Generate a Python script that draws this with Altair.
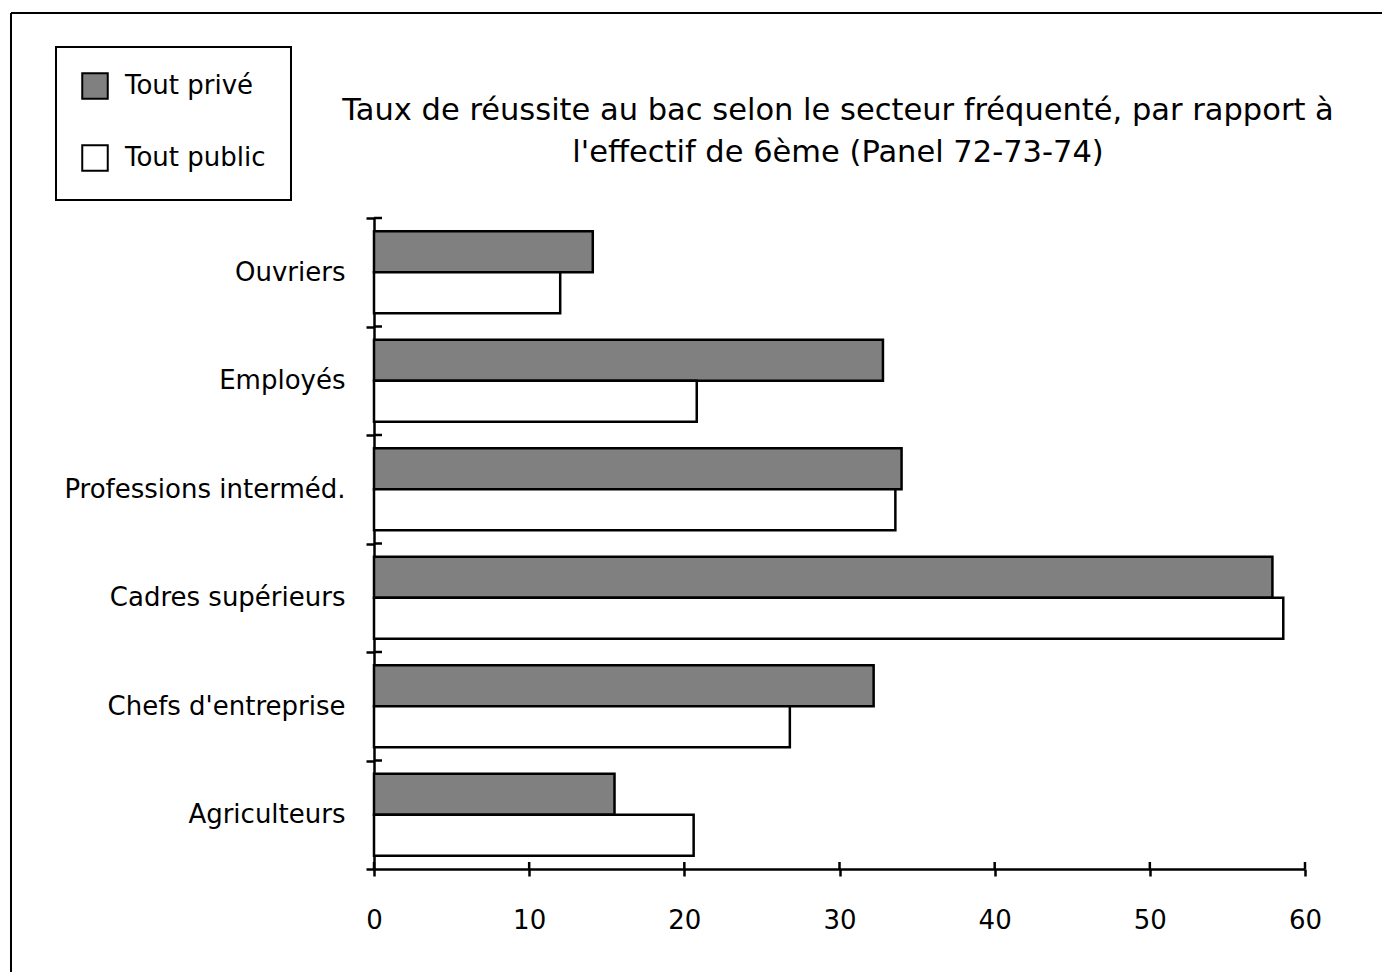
import altair as alt
import pandas as pd

categories = ["Ouvriers", "Employés", "Professions interméd.",
              "Cadres supérieurs", "Chefs d'entreprise", "Agriculteurs"]
series = ["Tout privé", "Tout public"]
prive = [14.1, 32.8, 34.0, 57.9, 32.2, 15.5]
public = [12.0, 20.8, 33.6, 58.6, 26.8, 20.6]
x_ticks = [0, 10, 20, 30, 40, 50, 60]
title_lines = ["Taux de réussite au bac selon le secteur fréquenté, par rapport à",
               "l'effectif de 6ème (Panel 72-73-74)"]

rows = []
for c, p, q in zip(categories, prive, public):
    rows.append({"cat": c, "serie": series[0], "val": p})
    rows.append({"cat": c, "serie": series[1], "val": q})
df = pd.DataFrame(rows)

W, H = 931, 651
FONT = "DejaVu Sans"
LBL = 26

x_scale = alt.Scale(domain=[0, 60], nice=False, zero=True)
y_scale = alt.Scale(paddingInner=0, paddingOuter=0)

x_axis = alt.Axis(values=x_ticks, title=None, grid=False,
                  domainColor="black", domainWidth=2.5,
                  tickColor="black", tickWidth=2.5, tickSize=7,
                  labelFontSize=LBL, labelFont=FONT, labelColor="black",
                  labelPadding=31, labelFlush=False, format="d")
y_axis = alt.Axis(title=None, tickBand="extent", tickSize=8, tickWidth=2.5, grid=False,
                  tickColor="black", domainColor="black", domainWidth=2.5,
                  labelFontSize=LBL, labelFont=FONT, labelColor="black",
                  labelPadding=21, labelLimit=400)

bars = alt.Chart(df).mark_bar(stroke="black", strokeWidth=2.5).encode(
    x=alt.X("val:Q", scale=x_scale, axis=x_axis),
    y=alt.Y("cat:N", sort=categories, scale=y_scale, axis=y_axis),
    yOffset=alt.YOffset("serie:N", sort=series,
                        scale=alt.Scale(paddingOuter=0.32, paddingInner=0)),
    fill=alt.Fill("serie:N", scale=alt.Scale(domain=series, range=["#808080", "#ffffff"]),
                  legend=alt.Legend(title=None, orient="none", legendX=-318, legendY=-171,
                                    symbolType="square", symbolSize=650,
                                    symbolStrokeColor="black", symbolStrokeWidth=2,
                                    symbolOpacity=1,
                                    labelFontSize=LBL, labelFont=FONT, labelColor="black",
                                    labelOffset=16, rowPadding=38, padding=25,
                                    strokeColor="black")),
)

xt = pd.DataFrame({"t": x_ticks})
x_in = alt.Chart(xt).mark_rule(color="black", strokeWidth=2.5).encode(
    x=alt.X("t:Q", scale=x_scale, axis=x_axis),
    y=alt.value(H - 7), y2=alt.value(H),
)

yt = pd.DataFrame({"cat": categories})
y_in = alt.Chart(yt).mark_rule(color="black", strokeWidth=2.5).encode(
    y=alt.Y("cat:N", sort=categories, bandPosition=0, scale=y_scale, axis=y_axis),
    x=alt.value(0), x2=alt.value(8),
)

dummy = pd.DataFrame({"a": [0]})
frame_top = alt.Chart(dummy).mark_rule(color="black", strokeWidth=2).encode(
    x=alt.value(-363), x2=alt.value(1008), y=alt.value(-205))
frame_left = alt.Chart(dummy).mark_rule(color="black", strokeWidth=2).encode(
    x=alt.value(-363), y=alt.value(-205), y2=alt.value(754))

t1 = alt.Chart(pd.DataFrame({"txt": [title_lines[0]]})).mark_text(
    font=FONT, fontSize=30.5, color="black", align="center", baseline="alphabetic"
).encode(text="txt:N", x=alt.value(464), y=alt.value(-98))
t2 = alt.Chart(pd.DataFrame({"txt": [title_lines[1]]})).mark_text(
    font=FONT, fontSize=30.5, color="black", align="center", baseline="alphabetic"
).encode(text="txt:N", x=alt.value(464), y=alt.value(-56))

chart = alt.layer(bars, x_in, y_in, frame_top, frame_left, t1, t2).properties(
    width=W, height=H, background="white",
    padding={"left": 10, "top": 12, "right": 0, "bottom": 0},
).configure_view(strokeWidth=0, stroke="transparent").configure_legend(strokeWidth=2)

chart.save("out.html", embed_options={"renderer": "svg", "actions": False})
